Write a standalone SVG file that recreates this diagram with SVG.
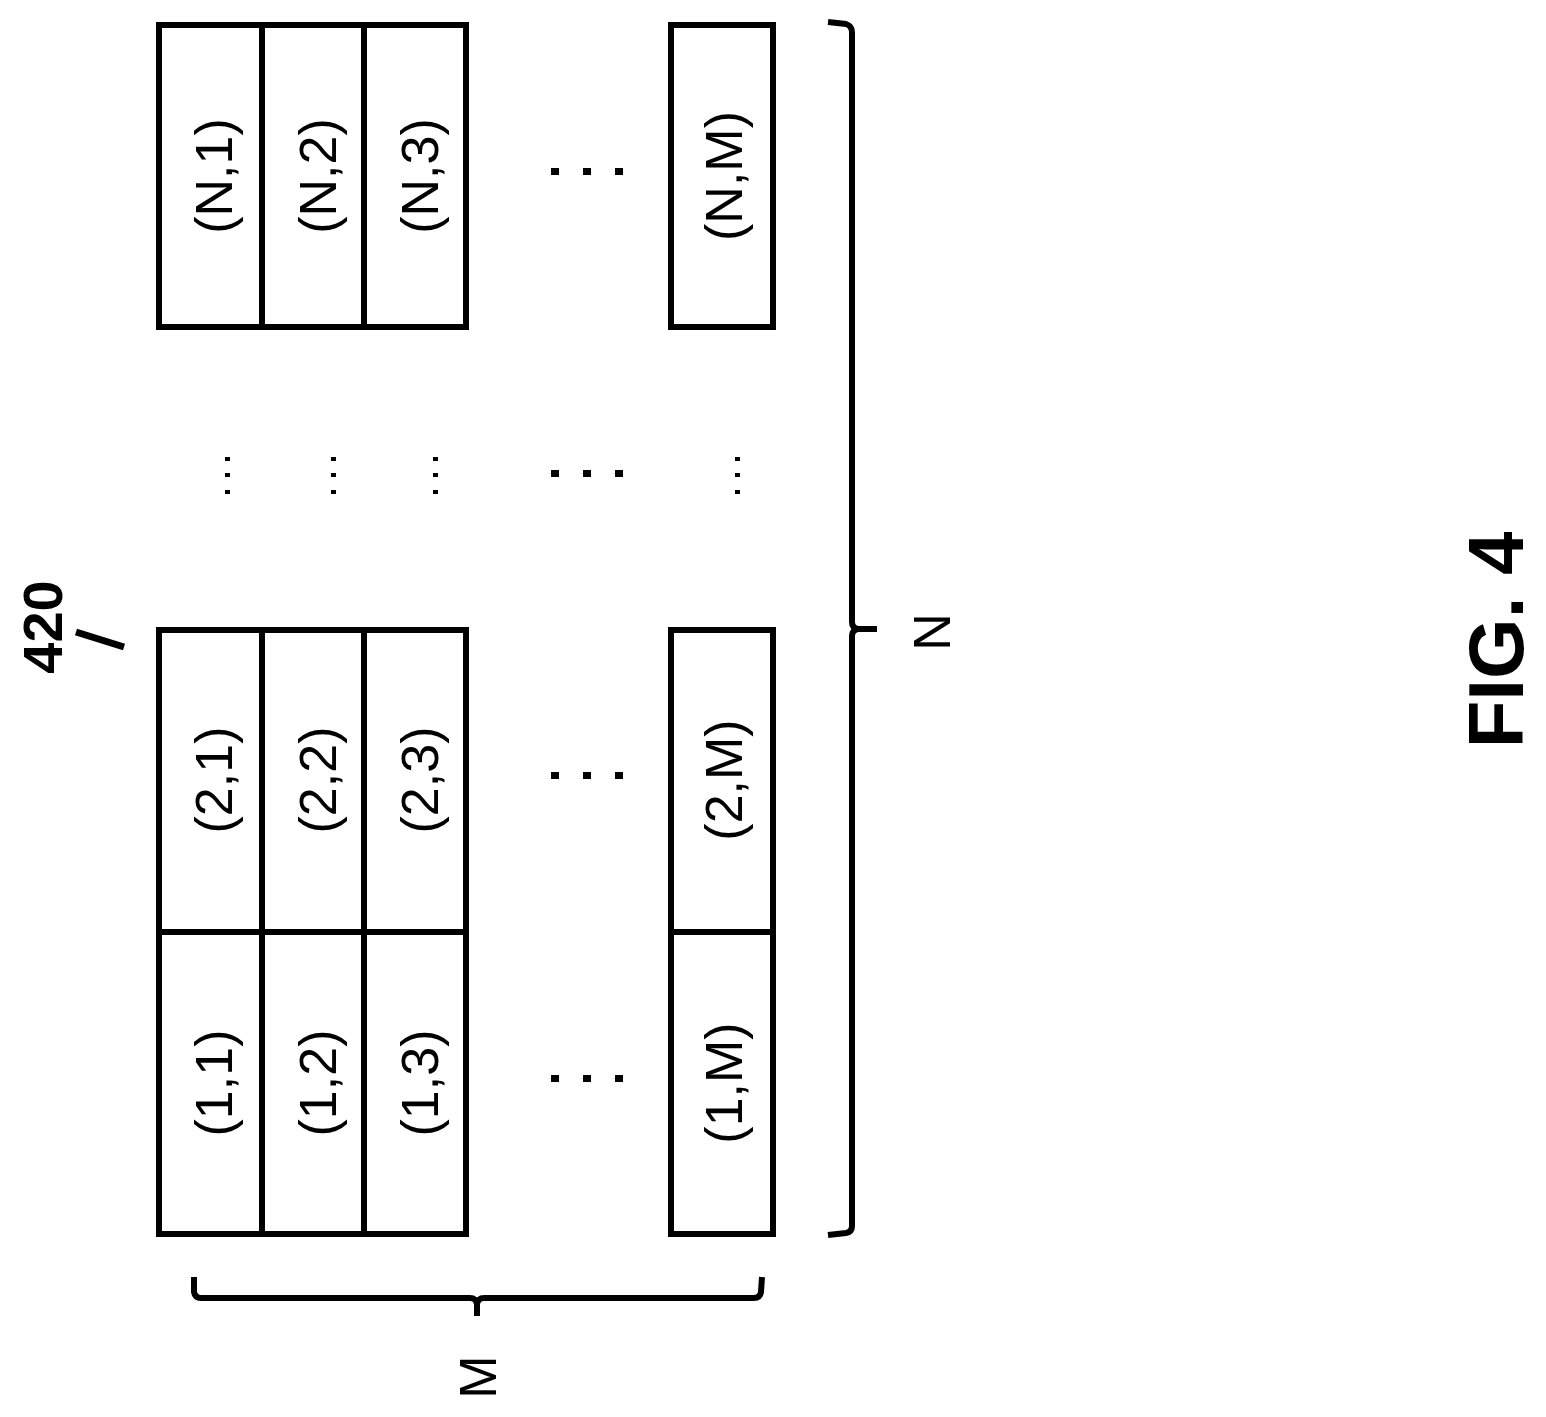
<svg xmlns="http://www.w3.org/2000/svg" width="1546" height="1417" viewBox="0 0 1546 1417">
<style>
.c{fill:#fff;stroke:#000;stroke-width:6}
.l{fill:none;stroke:#000;stroke-width:6}
.t{font-family:"Liberation Sans",Arial,sans-serif;font-size:52px;text-anchor:middle;dominant-baseline:central}
.d{fill:#000}
</style>
<rect width="1546" height="1417" fill="#fff"/>
<g id="row-N">
<rect class="c" x="159" y="25" width="103" height="302"/><rect class="c" x="262" y="25" width="102" height="302"/><rect class="c" x="364" y="25" width="102" height="302"/><rect class="c" x="671" y="25" width="102" height="302"/>
<text class="t" transform="translate(214,176) rotate(-90)">(N,1)</text>
<text class="t" transform="translate(318,176) rotate(-90)">(N,2)</text>
<text class="t" transform="translate(420,176) rotate(-90)">(N,3)</text>
<text class="t" transform="translate(724,176) rotate(-90)">(N,M)</text>
</g>
<g id="row-2">
<rect class="c" x="159" y="630" width="103" height="302"/><rect class="c" x="262" y="630" width="102" height="302"/><rect class="c" x="364" y="630" width="102" height="302"/><rect class="c" x="671" y="630" width="102" height="302"/>
<text class="t" transform="translate(214,780) rotate(-90)">(2,1)</text>
<text class="t" transform="translate(318,780) rotate(-90)">(2,2)</text>
<text class="t" transform="translate(420,780) rotate(-90)">(2,3)</text>
<text class="t" transform="translate(724,780) rotate(-90)">(2,M)</text>
</g>
<g id="row-1">
<rect class="c" x="159" y="932" width="103" height="302"/><rect class="c" x="262" y="932" width="102" height="302"/><rect class="c" x="364" y="932" width="102" height="302"/><rect class="c" x="671" y="932" width="102" height="302"/>
<text class="t" transform="translate(214,1083) rotate(-90)">(1,1)</text>
<text class="t" transform="translate(318,1083) rotate(-90)">(1,2)</text>
<text class="t" transform="translate(420,1083) rotate(-90)">(1,3)</text>
<text class="t" transform="translate(724,1083) rotate(-90)">(1,M)</text>
</g>
<g id="dots">
<rect class="d" x="551" y="168" width="8" height="7"/><rect class="d" x="583" y="168" width="8" height="7"/><rect class="d" x="615" y="168" width="8" height="7"/>
<rect class="d" x="551" y="470" width="8" height="7"/><rect class="d" x="583" y="470" width="8" height="7"/><rect class="d" x="615" y="470" width="8" height="7"/>
<rect class="d" x="551" y="772" width="8" height="7"/><rect class="d" x="583" y="772" width="8" height="7"/><rect class="d" x="615" y="772" width="8" height="7"/>
<rect class="d" x="551" y="1075" width="8" height="7"/><rect class="d" x="583" y="1075" width="8" height="7"/><rect class="d" x="615" y="1075" width="8" height="7"/>
<rect class="d" x="225" y="457" width="5" height="4"/><rect class="d" x="225" y="473" width="5" height="4"/><rect class="d" x="225" y="490" width="5" height="4"/>
<rect class="d" x="331" y="457" width="5" height="4"/><rect class="d" x="331" y="473" width="5" height="4"/><rect class="d" x="331" y="490" width="5" height="4"/>
<rect class="d" x="433" y="457" width="5" height="4"/><rect class="d" x="433" y="473" width="5" height="4"/><rect class="d" x="433" y="490" width="5" height="4"/>
<rect class="d" x="735" y="457" width="5" height="4"/><rect class="d" x="735" y="473" width="5" height="4"/><rect class="d" x="735" y="490" width="5" height="4"/>
</g>
<g id="connectors">
<path class="l" d="M828,22 L846,24 Q852,26 852,32 L852,622 Q852,628 858,629 L877,629 M858,629 Q852,630 852,636 L852,1226 Q852,1232 846,1233 L828,1235"/>
<path class="l" d="M194,1277 L194,1292 Q195,1298 201,1298 L470,1298 Q476,1298 477,1304 L477,1316 M477,1304 Q478,1298 484,1298 L754,1298 Q760,1298 761,1292 L762,1277"/>
<path d="M76,632 L124,647" stroke="#000" stroke-width="7"/>
</g>
<text class="t" transform="translate(932,632) rotate(-90)">N</text>
<text class="t" transform="translate(478,1377) rotate(-90)">M</text>
<text class="t" style="font-weight:bold;font-size:56px" transform="translate(42,627) rotate(-90)">420</text>
<text class="t" style="font-weight:bold;font-size:78px" transform="translate(1496,640) rotate(-90)">FIG. 4</text>
</svg>
